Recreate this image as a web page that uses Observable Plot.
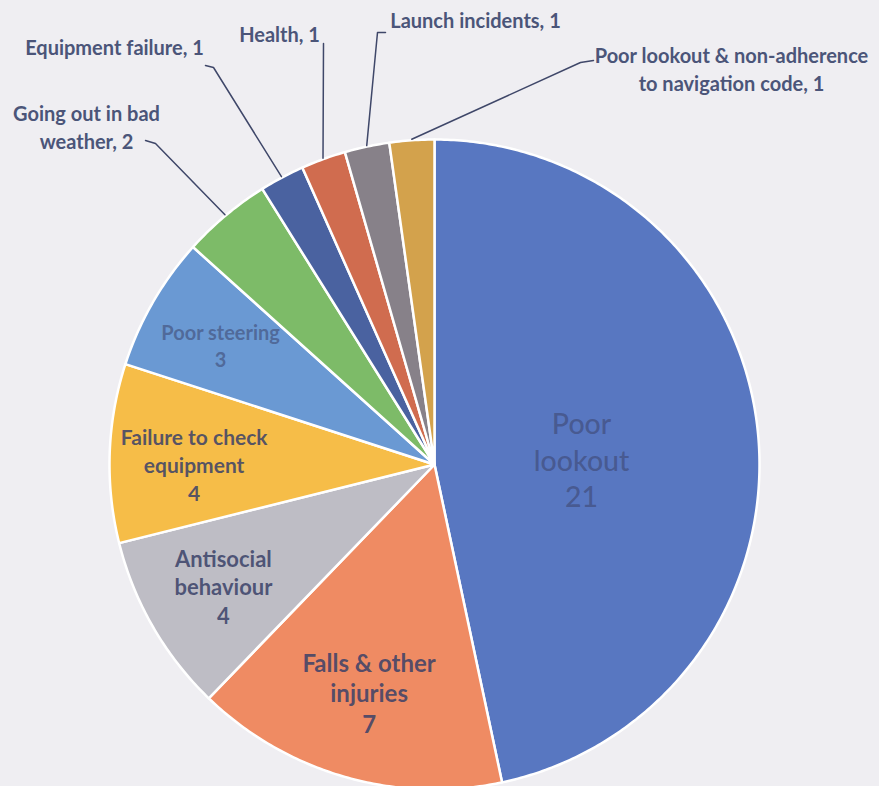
<!DOCTYPE html>
<html>
<head>
<meta charset="utf-8">
<script src="https://cdn.jsdelivr.net/npm/d3@7"></script>
<script src="https://cdn.jsdelivr.net/npm/@observablehq/plot@0.6"></script>
<style>
  html, body { margin: 0; padding: 0; background: #efeef2; }
  #chart svg { display: block; }
</style>
</head>
<body>
<div id="chart"></div>
<script>
// ---- Data ----
const categories = [
  "Poor lookout", "Falls & other injuries", "Antisocial behaviour",
  "Failure to check equipment", "Poor steering", "Going out in bad weather",
  "Equipment failure", "Health", "Launch incidents",
  "Poor lookout & non-adherence to navigation code"
];
const counts = [21, 7, 4, 4, 3, 2, 1, 1, 1, 1];
const labelLines = [
  "Poor\nlookout", "Falls & other\ninjuries", "Antisocial\nbehaviour",
  "Failure to check\nequipment", "Poor steering", "Going out in bad\nweather",
  "Equipment failure", "Health", "Launch incidents",
  "Poor lookout & non-adherence\nto navigation code"
];
const sliceColors = [
  "#5877c1", "#ef8b63", "#bebdc5", "#f6bd48", "#6a99d3",
  "#7dbb68", "#4a62a0", "#d06c4f", "#878189", "#d3a24c"
];

// ---- Layout (pixels relative to the pie centre, y downward) ----
const W = 879, H = 786;
const CX = 434, CY = 464, R = 325;
const insideLayout = {          // index -> [radius fraction, dy, font size, weight, opacity, lineHeight]
  0: [0.455, 10, 28.5, 500, 0.55, 1.28],
  1: [0.73, 0, 24, 700, 0.85, 1.28],
  2: [0.75, 0, 22, 700, 0.85, 1.28],
  3: [0.74, 8, 21, 700, 0.85, 1.32],
  4: [0.76, 4, 20, 700, 0.55, 1.35]
};
const outsideLayout = {         // index -> text centre, elbow, stub end
  5: {t: [-348, -338], e: [-279, -321], s: [-289, -324]},
  6: {t: [-320, -418], e: [-221, -397], s: [-229, -399]},
  7: {t: [-155, -431], e: [-111, -421], s: [-111, -421]},
  8: {t: [41, -445],   e: [-57, -432],  s: [-49, -432]},
  9: {t: [297, -396],  e: [146, -402],  s: [159, -404]}
};

// ---- Geometry from data ----
const arcs = d3.pie().sort(null).value(d => d)(counts);
const polar = (a, r) => [r * Math.sin(a), -r * Math.cos(a)];

const slicePts = [];
arcs.forEach((a, i) => {
  slicePts.push({cat: categories[i], x: 0, y: 0});
  const n = Math.max(4, Math.ceil((a.endAngle - a.startAngle) / 0.01));
  for (let k = 0; k <= n; k++) {
    const ang = a.startAngle + (a.endAngle - a.startAngle) * k / n;
    const [x, y] = polar(ang, R);
    slicePts.push({cat: categories[i], x, y});
  }
});

const insideLabels = [];
const outsideLabels = [];
const leaderPts = [];
arcs.forEach((a, i) => {
  const mid = (a.startAngle + a.endAngle) / 2;
  if (insideLayout[i]) {
    const [f, dy, fs, fw, op, lh] = insideLayout[i];
    const [x, y] = polar(mid, f * R);
    insideLabels.push({x, y: y + dy, text: `${labelLines[i]}\n${counts[i]}`, fs, fw, op, lh});
  } else if (outsideLayout[i]) {
    const L = outsideLayout[i];
    outsideLabels.push({x: L.t[0], y: L.t[1], text: `${labelLines[i]}, ${counts[i]}`});
    const [px, py] = polar(mid, R + 1);
    leaderPts.push({k: i, x: px, y: py});
    leaderPts.push({k: i, x: L.e[0], y: L.e[1]});
    leaderPts.push({k: i, x: L.s[0], y: L.s[1]});
  }
});

const font = "Lato, 'Open Sans', sans-serif";
const insideMarks = insideLabels.map(d =>
  Plot.text([d], {
    x: "x", y: "y", text: "text",
    fontSize: d.fs, fontWeight: d.fw, fontFamily: font,
    fill: "#3a4168", fillOpacity: d.op,
    lineHeight: d.lh, textAnchor: "middle", lineAnchor: "middle"
  })
);

const chart = Plot.plot({
  width: W, height: H,
  margin: 0,
  style: {background: "#efeef2", fontFamily: font},
  x: {domain: [-CX, W - CX], range: [0, W], axis: null},
  y: {domain: [-CY, H - CY], range: [0, H], axis: null},
  color: {type: "ordinal", domain: categories, range: sliceColors},
  marks: [
    Plot.line(slicePts, {
      x: "x", y: "y", z: "cat", fill: "cat",
      stroke: "white", strokeWidth: 2.5, strokeLinejoin: "round",
      curve: "linear-closed"
    }),
    Plot.line(leaderPts, {
      x: "x", y: "y", z: "k", stroke: "#3f4769", strokeWidth: 1.5
    }),
    Plot.text(outsideLabels, {
      x: "x", y: "y", text: "text",
      fontSize: 20, fontWeight: 700, fontFamily: font,
      fill: "#4b5579", lineHeight: 1.4,
      textAnchor: "middle", lineAnchor: "middle"
    }),
    ...insideMarks
  ]
});
document.getElementById("chart").appendChild(chart);
</script>
</body>
</html>
